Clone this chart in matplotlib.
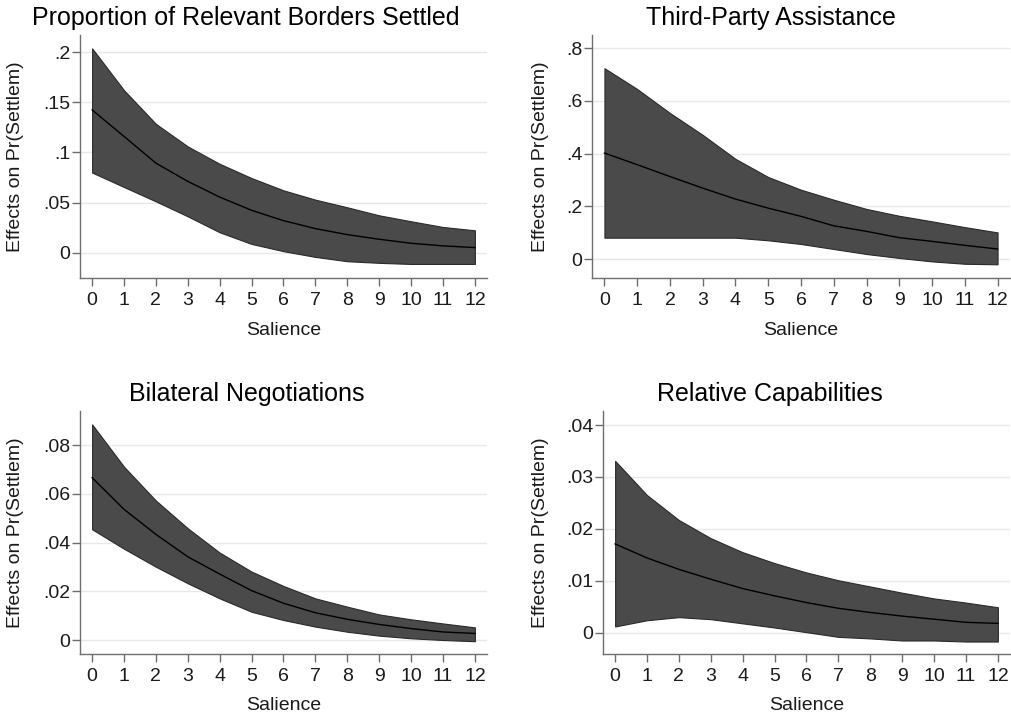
import numpy as np
import matplotlib.pyplot as plt

plt.rcParams['font.family'] = ['Liberation Sans', 'DejaVu Sans']

salience = np.arange(0, 13)

# Proportion of Relevant Borders Settled
p1_mean = [0.1424, 0.116, 0.0894, 0.0712, 0.0556, 0.0424, 0.0321, 0.0242, 0.0182, 0.0136, 0.0096, 0.007, 0.0053]
p1_hi = [0.2037, 0.162, 0.1285, 0.106, 0.0887, 0.0745, 0.0623, 0.053, 0.0454, 0.0374, 0.0315, 0.0258, 0.0225]
p1_lo = [0.080, 0.0656, 0.0513, 0.0364, 0.0205, 0.0089, 0.0017, -0.004, -0.0083, -0.0099, -0.011, -0.011, -0.011]

# Third-Party Assistance
p2_mean = [0.402, 0.358, 0.313, 0.269, 0.2275, 0.193, 0.162, 0.126, 0.105, 0.081, 0.067, 0.052, 0.038]
p2_hi = [0.724, 0.645, 0.554, 0.471, 0.380, 0.311, 0.263, 0.225, 0.190, 0.164, 0.143, 0.121, 0.101]
p2_lo = [0.081, 0.081, 0.081, 0.081, 0.081, 0.071, 0.057, 0.038, 0.019, 0.004, -0.009, -0.018, -0.020]

# Bilateral Negotiations
p3_mean = [0.0667, 0.0537, 0.0434, 0.0342, 0.0271, 0.0203, 0.0151, 0.0112, 0.0085, 0.0064, 0.0047, 0.0033, 0.0027]
p3_hi = [0.0886, 0.0712, 0.0573, 0.0459, 0.0359, 0.0281, 0.0222, 0.0171, 0.0137, 0.0105, 0.0085, 0.0068, 0.0052]
p3_lo = [0.0455, 0.0375, 0.0301, 0.0233, 0.0171, 0.0116, 0.0082, 0.0055, 0.0034, 0.0018, 0.0007, 0.0, -0.0005]

# Relative Capabilities
p4_mean = [0.0171, 0.0144, 0.0122, 0.0103, 0.0085, 0.0071, 0.0058, 0.0047, 0.0039, 0.0032, 0.0026, 0.002, 0.0018]
p4_hi = [0.0331, 0.0265, 0.0217, 0.0182, 0.0155, 0.0134, 0.0116, 0.0101, 0.0089, 0.0077, 0.0066, 0.0058, 0.0049]
p4_lo = [0.0012, 0.0024, 0.003, 0.0026, 0.0018, 0.001, 0.0001, -0.0008, -0.0011, -0.0015, -0.0015, -0.0017, -0.0017]

titles = ["Proportion of Relevant Borders Settled", "Third-Party Assistance",
          "Bilateral Negotiations", "Relative Capabilities"]
yticks = [[0, 0.05, 0.1, 0.15, 0.2], [0, 0.2, 0.4, 0.6, 0.8],
          [0, 0.02, 0.04, 0.06, 0.08], [0, 0.01, 0.02, 0.03, 0.04]]
yticklabels = [["0", ".05", ".1", ".15", ".2"], ["0", ".2", ".4", ".6", ".8"],
               ["0", ".02", ".04", ".06", ".08"], ["0", ".01", ".02", ".03", ".04"]]
ylims = [(-0.025, 0.217), (-0.072, 0.85), (-0.00575, 0.0941), (-0.0041, 0.0427)]
data = [(p1_mean, p1_lo, p1_hi), (p2_mean, p2_lo, p2_hi),
        (p3_mean, p3_lo, p3_hi), (p4_mean, p4_lo, p4_hi)]

W, H = 1012, 721
# axes boxes in pixels: left, right, top, bottom
boxes = [(80, 487, 35, 278), (592, 1010, 35, 278), (80, 487, 411, 654), (603, 1010, 411, 654)]
title_x = [246, 771, 247, 770]
title_y = [18, 18, 394, 394]
ylabel_x = [16, 541, 16, 541]

fig = plt.figure(figsize=(W / 100, H / 100), dpi=100)
txt = "#1a1a1a"
for i in range(4):
    l, r, t, b = boxes[i]
    ax = fig.add_axes([l / W, 1 - b / H, (r - l) / W, (b - t) / H])
    m, lo, hi = data[i]
    ax.fill_between(salience, lo, hi, color="#4a4a4a", edgecolor="#2a2a2a", linewidth=0.8, zorder=2)
    ax.plot(salience, m, color="black", linewidth=1.0, zorder=3)
    ax.set_xlim(-0.38, 12.38)
    ax.set_ylim(*ylims[i])
    ax.set_xticks(salience)
    ax.set_xticklabels([str(v) for v in salience], fontsize=14, color=txt)
    ax.set_yticks(yticks[i])
    ax.set_yticklabels(yticklabels[i], fontsize=14, color=txt)
    ax.grid(axis="y", color="#e8e8e8", linewidth=1.0, zorder=0)
    ax.set_axisbelow(True)
    for s in ["top", "right"]:
        ax.spines[s].set_visible(False)
    for s in ["left", "bottom"]:
        ax.spines[s].set_color("#6e6e6e")
        ax.spines[s].set_linewidth(1.0)
    ax.tick_params(direction="out", length=6, width=1.0, color="#6e6e6e")
    ax.tick_params(axis="x", pad=4)
    ax.tick_params(axis="y", pad=1)
    ax.set_xlabel("Salience", fontsize=14, color=txt, va="center")
    ax.set_ylabel("Effects on Pr(Settlem)", fontsize=14, color=txt, va="center", ha="center")
    ax.xaxis.set_label_coords(0.5, -52 / (b - t))
    ax.yaxis.set_label_coords((ylabel_x[i] - l) / (r - l), 0.5)
    fig.text(title_x[i] / W, 1 - title_y[i] / H, titles[i], fontsize=18,
             ha="center", va="center", color="black")

fig.savefig("out.png", dpi=100, facecolor="white")
